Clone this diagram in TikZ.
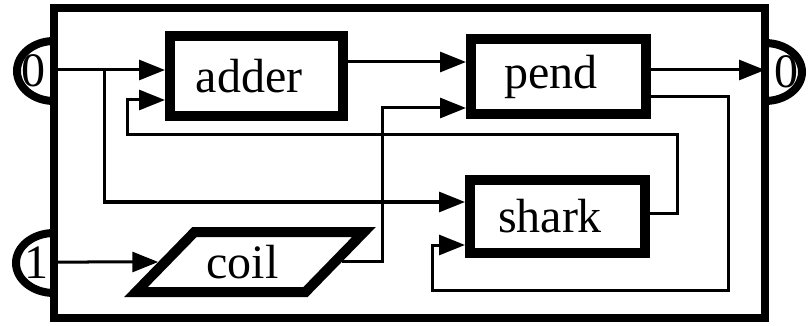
\documentclass[tikz,border=0pt]{standalone}
\usepackage{fontspec}
\setmainfont{Liberation Serif}
\usetikzlibrary{arrows.meta,shapes.geometric}

\begin{document}
\begin{tikzpicture}[x=1pt, y=-1pt, font=\fontsize{48}{48}\selectfont,
  block/.style={draw, line width=10pt, inner sep=0pt,
    execute at end node={\kern15pt}},
  wire/.style={line width=3pt},
  feed/.style={wire, -{Triangle[length=26pt,width=20pt]}},
  portline/.style={line width=8pt}]

\useasboundingbox (0,0) rectangle (809,326);

%% ---------- ports on the frame ----------
\coordinate (in0) at (54,70);
\coordinate (in1) at (54,262);
\coordinate (out0) at (765,70);

\draw[portline] (54,71) ++(0,30) arc[start angle=90, end angle=270, x radius=37, y radius=30];
\draw[portline] (54,263) ++(0,30) arc[start angle=90, end angle=270, x radius=38, y radius=30];
\draw[portline] (765,72) ++(0,29) arc[start angle=90, end angle=-90, x radius=37, y radius=29];

\node (in0txt) at (33,71) {0};
\node (in1txt) at (36,263) {1};
\node (out0txt) at (786,72) {0};

%% ---------- the frame ----------
\node[draw, line width=8pt, inner sep=0pt, minimum width=711, minimum height=310]
  (sys) at (409.5,163) {};

%% ---------- blocks ----------
\node[block, minimum width=173, minimum height=80] (adder) at (256.5,76) {adder};
\node[block, minimum width=175, minimum height=75] (pend) at (558.5,76.5) {pend};
\node[block, minimum width=175, minimum height=73] (shark) at (557.5,216.5) {shark};
\node[block, trapezium, trapezium left angle=30, trapezium right angle=150,
  trapezium stretches body, minimum width=228, minimum height=60]
  (coil) at (250,262) {coil};

%% ---------- wires ----------
\coordinate (split) at (104,70);
\draw[feed] (in0) -- (adder.west |- in0);
\draw[feed] (split) |- (shark.west |- 0,202);
\draw[feed] (adder.east |- 0,62) -- (pend.west |- 0,62);
\draw[feed] (pend.east |- out0) -- (out0);
\draw[feed] (in1) -- (coil.west);
\draw[feed] (coil.east) -| (382,108) -- (pend.west |- 0,108);
\draw[feed] (shark.east |- 0,213) -| (677,135) -| (127,100) -- (adder.west |- 0,100);
\draw[feed] (pend.east |- 0,97) -| (728,290) -| (432,245) -- (shark.west |- 0,245);

\end{tikzpicture}
\end{document}
